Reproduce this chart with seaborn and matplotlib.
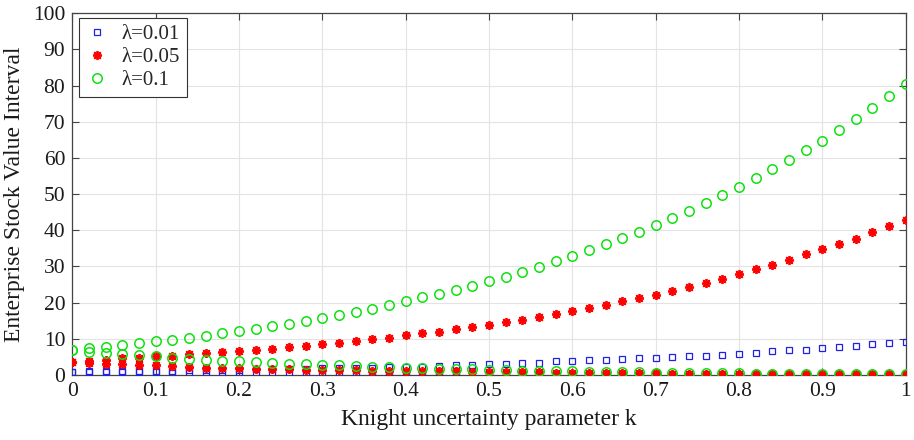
import numpy as np
import pandas as pd
import matplotlib
matplotlib.use("Agg")
import matplotlib.pyplot as plt
import seaborn as sns

# ---- data ----
k = [0.00, 0.02, 0.04, 0.06, 0.08, 0.10, 0.12, 0.14, 0.16, 0.18,
     0.20, 0.22, 0.24, 0.26, 0.28, 0.30, 0.32, 0.34, 0.36, 0.38,
     0.40, 0.42, 0.44, 0.46, 0.48, 0.50, 0.52, 0.54, 0.56, 0.58,
     0.60, 0.62, 0.64, 0.66, 0.68, 0.70, 0.72, 0.74, 0.76, 0.78,
     0.80, 0.82, 0.84, 0.86, 0.88, 0.90, 0.92, 0.94, 0.96, 0.98, 1.00]

blue_upper = [0.9, 0.95, 1.0, 1.05, 1.1, 1.15, 1.2, 1.25, 1.3, 1.35,
              1.4, 1.5, 1.55, 1.6, 1.7, 1.8, 1.85, 1.95, 2.0, 2.1,
              2.2, 2.3, 2.4, 2.6, 2.8, 2.9, 3.1, 3.3, 3.4, 3.7,
              3.8, 4.0, 4.1, 4.3, 4.6, 4.7, 4.9, 5.1, 5.3, 5.6,
              5.9, 6.1, 6.5, 6.8, 7.0, 7.3, 7.7, 8.0, 8.4, 8.7, 9.2]
blue_lower = [0.9, 0.85, 0.8, 0.75, 0.72, 0.68, 0.64, 0.6, 0.57, 0.54,
              0.5, 0.48, 0.45, 0.43, 0.4, 0.38, 0.36, 0.34, 0.32, 0.3,
              0.29, 0.27, 0.26, 0.24, 0.23, 0.22, 0.21, 0.2, 0.19, 0.18,
              0.17, 0.16, 0.15, 0.15, 0.14, 0.13, 0.13, 0.12, 0.12, 0.11,
              0.11, 0.1, 0.1, 0.09, 0.09, 0.09, 0.08, 0.08, 0.08, 0.07, 0.07]

red_upper = [3.5, 3.9, 4.2, 4.6, 4.8, 5.1, 5.3, 5.7, 6.0, 6.2,
             6.5, 6.9, 7.2, 7.6, 8.0, 8.4, 8.9, 9.3, 9.8, 10.3,
             10.9, 11.5, 11.9, 12.6, 13.3, 13.9, 14.6, 15.3, 15.9, 16.7,
             17.7, 18.4, 19.4, 20.4, 21.3, 22.1, 23.2, 24.3, 25.4, 26.6,
             27.9, 29.2, 30.5, 31.8, 33.3, 34.7, 36.3, 37.7, 39.5, 41.2, 42.9]
red_lower = [3.5, 3.3, 3.1, 2.9, 2.7, 2.6, 2.4, 2.2, 2.0, 1.9,
             1.8, 1.7, 1.6, 1.5, 1.45, 1.35, 1.3, 1.25, 1.2, 1.15,
             1.1, 1.05, 1.0, 0.95, 0.9, 0.85, 0.8, 0.75, 0.7, 0.65,
             0.6, 0.55, 0.5, 0.47, 0.44, 0.4, 0.37, 0.34, 0.31, 0.29,
             0.27, 0.25, 0.23, 0.21, 0.2, 0.18, 0.17, 0.16, 0.15, 0.14, 0.13]

green_upper = [6.9, 7.3, 7.8, 8.2, 8.8, 9.3, 9.7, 10.3, 10.8, 11.5,
               12.0, 12.7, 13.4, 14.2, 15.0, 15.7, 16.6, 17.4, 18.3, 19.4,
               20.3, 21.4, 22.5, 23.6, 24.7, 26.0, 27.2, 28.5, 29.9, 31.5,
               32.9, 34.5, 36.2, 37.9, 39.6, 41.5, 43.5, 45.4, 47.6, 49.8,
               52.0, 54.4, 56.8, 59.4, 62.1, 64.8, 67.7, 70.7, 73.8, 77.0, 80.3]
green_lower = [6.9, 6.3, 6.0, 5.8, 5.5, 5.1, 4.8, 4.4, 4.2, 3.9,
               3.7, 3.5, 3.3, 3.1, 2.9, 2.7, 2.6, 2.4, 2.3, 2.1,
               2.0, 1.9, 1.7, 1.6, 1.5, 1.4, 1.3, 1.2, 1.15, 1.05,
               1.0, 0.9, 0.85, 0.8, 0.7, 0.65, 0.6, 0.55, 0.5, 0.45,
               0.42, 0.38, 0.35, 0.32, 0.3, 0.27, 0.25, 0.22, 0.2, 0.18, 0.17]

labels = ["λ=0.01", "λ=0.05", "λ=0.1"]
x_ticks = [0, 0.1, 0.2, 0.3, 0.4, 0.5, 0.6, 0.7, 0.8, 0.9, 1.0]
x_tick_labels = ["0", "0.1", "0.2", "0.3", "0.4", "0.5", "0.6", "0.7", "0.8", "0.9", "1"]
y_ticks = [0, 10, 20, 30, 40, 50, 60, 70, 80, 90, 100]

# ---- style ----
sns.set_theme(style="white")
plt.rcParams["font.family"] = ["Liberation Serif", "DejaVu Serif"]
plt.rcParams["mathtext.fontset"] = "stix"

fig = plt.figure(figsize=(9.14, 4.40), dpi=100)
ax = fig.add_axes([0.079, 0.148, 0.912, 0.822])

series = [
    (blue_upper, blue_lower, labels[0],
     dict(marker="s", markersize=4.3, markerfacecolor="none",
          markeredgecolor="#2020e0", markeredgewidth=0.9, color="#2020e0")),
    (red_upper, red_lower, labels[1],
     dict(marker=(8, 2, 0), markersize=6.5, markerfacecolor="#ff0000",
          markeredgecolor="#ff0000", markeredgewidth=1.3, color="#ff0000")),
    (green_upper, green_lower, labels[2],
     dict(marker="o", markersize=6.8, markerfacecolor="none",
          markeredgecolor="#10e010", markeredgewidth=1.1, color="#10e010")),
]

for up, lo, lab, st in series:
    df_up = pd.DataFrame({"k": k, "v": up})
    df_lo = pd.DataFrame({"k": k, "v": lo})
    sns.lineplot(data=df_up, x="k", y="v", ax=ax, linestyle="none",
                 estimator=None, sort=False, label=lab, zorder=3, **st)
    sns.lineplot(data=df_lo, x="k", y="v", ax=ax, linestyle="none",
                 estimator=None, sort=False, label="_nolegend_", zorder=3, **st)

ax.set_xlim(0, 1)
ax.set_ylim(0, 100)
ax.set_xticks(x_ticks)
ax.set_xticklabels(x_tick_labels)
ax.set_yticks(y_ticks)

ax.grid(True, color="#e3e3e3", linewidth=0.8)
ax.set_axisbelow(True)

for sp in ax.spines.values():
    sp.set_color("#444444")
    sp.set_linewidth(0.9)
    sp.set_visible(True)

ax.tick_params(axis="both", which="major", direction="in", length=5,
               width=0.8, color="#444444", labelsize=15.5, labelcolor="#1a1a1a",
               top=True, right=True, bottom=True, left=True, pad=5)

ax.set_xlabel("Knight uncertainty parameter k", fontsize=17, color="#1a1a1a", labelpad=6)
ax.set_ylabel("Enterprise Stock Value Interval", fontsize=17, color="#1a1a1a", labelpad=6)

leg = ax.legend(loc="upper left", bbox_to_anchor=(0.008, 0.988), fontsize=15,
                frameon=True, fancybox=False, framealpha=1, edgecolor="#333333",
                handlelength=1.0, handletextpad=0.7, borderpad=0.35,
                labelspacing=0.15, borderaxespad=0.0)
leg.get_frame().set_linewidth(0.8)

fig.savefig("out.png", dpi=100)
